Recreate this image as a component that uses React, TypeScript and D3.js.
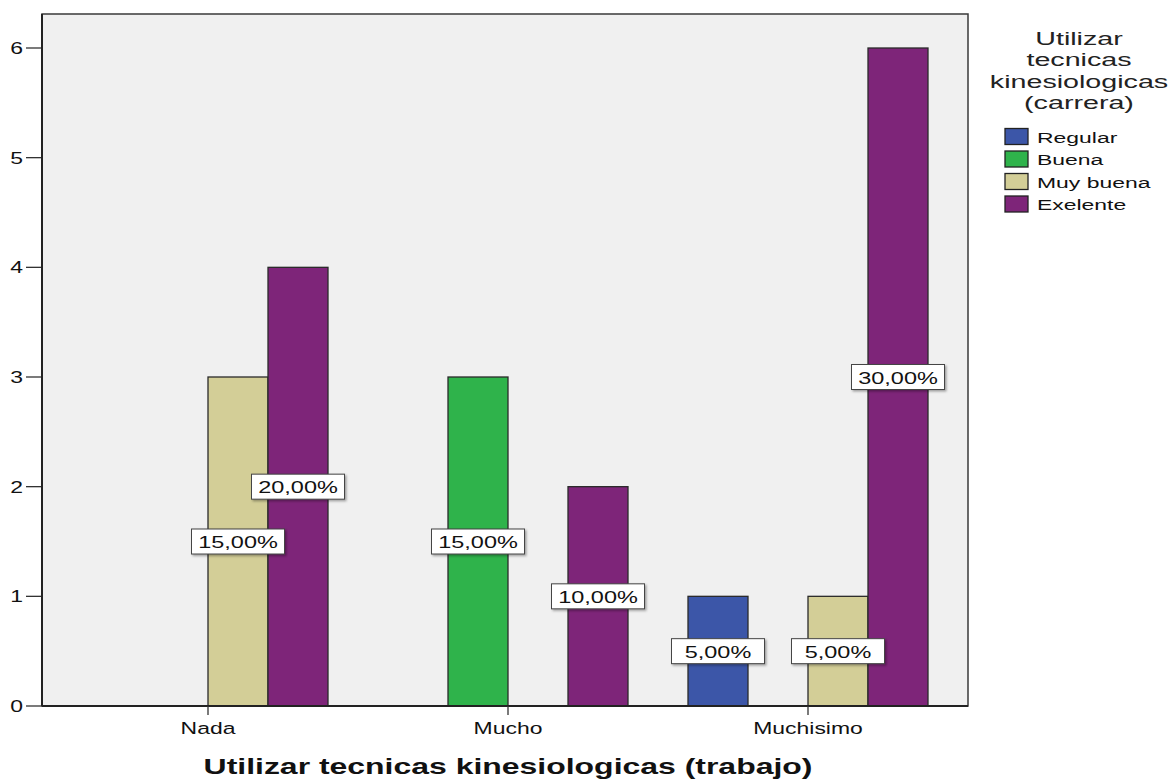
import React from "react";
import * as d3 from "d3";

const categories = ["Nada", "Mucho", "Muchisimo"];
const series = ["Regular", "Buena", "Muy buena", "Exelente"];
const colors = ["#3c56a8", "#2fb34b", "#d3ce97", "#7e2579"];
// counts per category (rows) per series (columns)
const counts = [
  [0, 0, 3, 4],
  [0, 3, 0, 2],
  [1, 0, 1, 6],
];
const percents = [
  [null, null, "15,00%", "20,00%"],
  [null, "15,00%", null, "10,00%"],
  ["5,00%", null, "5,00%", "30,00%"],
];
const yTicks = [0, 1, 2, 3, 4, 5, 6];
const legendTitle = ["Utilizar", "tecnicas", "kinesiologicas", "(carrera)"];
const xTitle = "Utilizar tecnicas kinesiologicas (trabajo)";

const W = 1173;
const H = 781;
const plot = { left: 42, right: 968, top: 14, bottom: 706 };
const font = "'Liberation Sans', Arial, sans-serif";

function SText(props: {
  x: number;
  y: number;
  sx: number;
  size: number;
  anchor?: "start" | "middle" | "end";
  weight?: string;
  family?: string;
  fill?: string;
  children: React.ReactNode;
}) {
  const { x, y, sx, size, anchor = "start", weight = "normal", family = font, fill = "#111", children } = props;
  return (
    <text
      transform={`translate(${x},${y}) scale(${sx},1)`}
      textAnchor={anchor}
      dominantBaseline="central"
      fontSize={size}
      fontWeight={weight}
      fontFamily={family}
      fill={fill}
    >
      {children}
    </text>
  );
}

export default function App() {
  const y = d3.scaleLinear().domain([0, 6]).range([plot.bottom, 48]);
  const x0 = d3.scaleBand<string>().domain(categories).range([58, 958]).padding(0);
  const x1 = d3
    .scaleBand<string>()
    .domain(series)
    .range([30, x0.bandwidth() - 30])
    .padding(0);
  const axisCenter = (x0(categories[1]) as number) + x0.bandwidth() / 2;

  return (
    <svg
      width={W}
      height={H}
      style={{ position: "absolute", left: 0, top: 0, background: "#fff" }}
      fontFamily={font}
    >
      <defs>
        <filter id="sh" x="-20%" y="-20%" width="150%" height="160%">
          <feDropShadow dx="1.5" dy="1.5" stdDeviation="0.8" floodColor="#000" floodOpacity="0.35" />
        </filter>
      </defs>
      <rect
        x={plot.left}
        y={plot.top}
        width={plot.right - plot.left}
        height={plot.bottom - plot.top}
        fill="#f0f0f0"
        stroke="#3a3a3a"
        strokeWidth={1.5}
      />
      {/* bars */}
      {categories.map((c, ci) =>
        series.map((s, si) => {
          const v = counts[ci][si];
          if (!v) return null;
          const bx = (x0(c) as number) + (x1(s) as number);
          return (
            <rect
              key={c + s}
              x={bx}
              y={y(v)}
              width={x1.bandwidth()}
              height={y(0) - y(v)}
              fill={colors[si]}
              stroke="#2a2a2a"
              strokeWidth={1.3}
            />
          );
        })
      )}
      {/* labels */}
      {categories.map((c, ci) =>
        series.map((s, si) => {
          const v = counts[ci][si];
          const p = percents[ci][si];
          if (!v || !p) return null;
          const cx = (x0(c) as number) + (x1(s) as number) + x1.bandwidth() / 2;
          const cy = y(v / 2);
          const bw = 93;
          const bh = 25;
          return (
            <g key={"l" + c + s}>
              <rect
                x={cx - bw / 2}
                y={cy - bh / 2}
                width={bw}
                height={bh}
                fill="#fff"
                stroke="#444"
                strokeWidth={1}
                filter="url(#sh)"
              />
              <SText x={cx} y={cy + 0.5} sx={1.38} size={17} anchor="middle">
                {p}
              </SText>
            </g>
          );
        })
      )}
      {/* y axis */}
      {yTicks.map((t) => (
        <g key={"y" + t}>
          <line x1={26} x2={plot.left} y1={y(t)} y2={y(t)} stroke="#333" strokeWidth={1.3} />
          <SText x={23} y={y(t)} sx={1.35} size={17} anchor="end">
            {t}
          </SText>
        </g>
      ))}
      <line x1={plot.left} x2={plot.left} y1={plot.top} y2={plot.bottom} stroke="#222" strokeWidth={2} />
      <line x1={plot.left} x2={plot.right} y1={plot.bottom} y2={plot.bottom} stroke="#222" strokeWidth={2} />
      {/* x axis */}
      {categories.map((c) => {
        const cx = (x0(c) as number) + x0.bandwidth() / 2;
        return (
          <g key={"x" + c}>
            <line x1={cx} x2={cx} y1={plot.bottom} y2={plot.bottom + 9} stroke="#333" strokeWidth={1.3} />
            <SText x={cx} y={plot.bottom + 22} sx={1.35} size={17} anchor="middle">
              {c}
            </SText>
          </g>
        );
      })}
      <SText x={axisCenter} y={766} sx={1.42} size={22.5} anchor="middle" weight="bold">
        {xTitle}
      </SText>
      {/* legend */}
      {legendTitle.map((l, i) => (
        <SText key={"lt" + i} x={1079} y={38 + i * 21.5} sx={1.55} size={18.5} anchor="middle" fill="#222">
          {l}
        </SText>
      ))}
      {series.map((s, i) => (
        <g key={"lg" + s}>
          <rect x={1005} y={128.5 + i * 22.5} width={23} height={16} fill={colors[i]} stroke="#222" strokeWidth={1.3} />
          <SText x={1037} y={137 + i * 22.5} sx={1.48} size={15.5}>
            {s}
          </SText>
        </g>
      ))}
    </svg>
  );
}
